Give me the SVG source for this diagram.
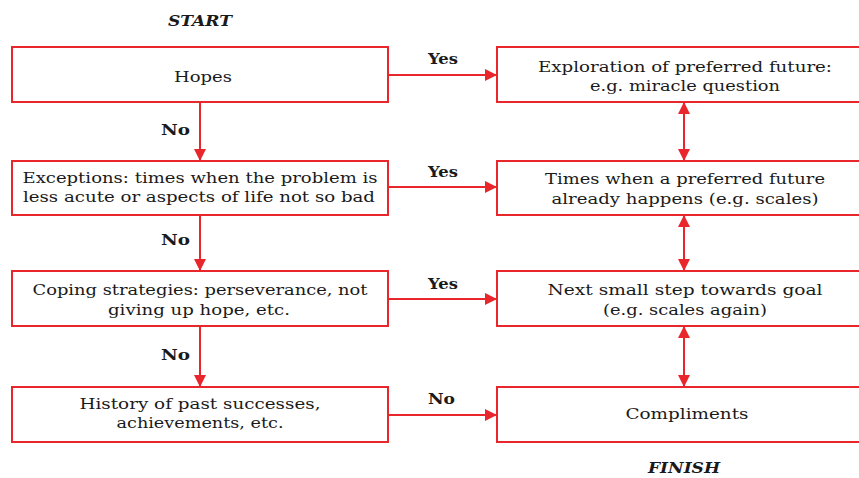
<svg xmlns="http://www.w3.org/2000/svg" width="859" height="478" viewBox="0 0 859 478">
  <style>
    .box { fill: #ffffff; stroke: #e8262c; stroke-width: 2; }
    .edge { fill: none; stroke: #e8262c; stroke-width: 2; }
    .t { font-family: "DejaVu Serif", "Liberation Serif", serif; font-size: 15.5px; fill: #1a1a1a; text-anchor: middle; }
    .lbl { font-family: "DejaVu Serif", "Liberation Serif", serif; font-size: 15px; font-weight: bold; fill: #1a1a1a; }
    .cap { font-family: "DejaVu Serif", "Liberation Serif", serif; font-size: 15px; font-weight: bold; font-style: italic; fill: #1a1a1a; }
  </style>
  <defs>
    <marker id="head" viewBox="0 0 12 12" refX="12" refY="6" markerWidth="12" markerHeight="12" markerUnits="userSpaceOnUse" orient="auto-start-reverse">
      <path d="M0,0 L12,6 L0,12 Z" fill="#e8262c"/>
    </marker>
  </defs>
  <rect width="859" height="478" fill="#ffffff"/>

  <text class="cap" x="168" y="26" textLength="64" lengthAdjust="spacingAndGlyphs">START</text>
  <text class="cap" x="648" y="473" textLength="72" lengthAdjust="spacingAndGlyphs">FINISH</text>

  <!-- left column -->
  <g id="hopes">
    <rect class="box" x="12" y="47" width="376" height="55"/>
    <text class="t" x="203" y="82" textLength="58" lengthAdjust="spacingAndGlyphs">Hopes</text>
  </g>
  <g id="exceptions">
    <rect class="box" x="12" y="161" width="376" height="54"/>
    <text class="t" x="200" y="183" textLength="355" lengthAdjust="spacingAndGlyphs">Exceptions: times when the problem is</text>
    <text class="t" x="199" y="202" textLength="352" lengthAdjust="spacingAndGlyphs">less acute or aspects of life not so bad</text>
  </g>
  <g id="coping">
    <rect class="box" x="12" y="271" width="376" height="55"/>
    <text class="t" x="200" y="295" textLength="335" lengthAdjust="spacingAndGlyphs">Coping strategies: perseverance, not</text>
    <text class="t" x="199" y="315" textLength="182" lengthAdjust="spacingAndGlyphs">giving up hope, etc.</text>
  </g>
  <g id="history">
    <rect class="box" x="12" y="387" width="376" height="55"/>
    <text class="t" x="200" y="409" textLength="241" lengthAdjust="spacingAndGlyphs">History of past successes,</text>
    <text class="t" x="200" y="428" textLength="167" lengthAdjust="spacingAndGlyphs">achievements, etc.</text>
  </g>

  <!-- right column -->
  <g id="preferred-future">
    <rect class="box" x="497" y="47" width="376" height="55"/>
    <text class="t" x="685" y="72" textLength="294" lengthAdjust="spacingAndGlyphs">Exploration of preferred future:</text>
    <text class="t" x="685" y="91" textLength="190" lengthAdjust="spacingAndGlyphs">e.g. miracle question</text>
  </g>
  <g id="already-happens">
    <rect class="box" x="497" y="161" width="376" height="54"/>
    <text class="t" x="685" y="184" textLength="280" lengthAdjust="spacingAndGlyphs">Times when a preferred future</text>
    <text class="t" x="685" y="204" textLength="267" lengthAdjust="spacingAndGlyphs">already happens (e.g. scales)</text>
  </g>
  <g id="next-step">
    <rect class="box" x="497" y="271" width="376" height="55"/>
    <text class="t" x="685" y="295" textLength="275" lengthAdjust="spacingAndGlyphs">Next small step towards goal</text>
    <text class="t" x="685" y="315" textLength="164" lengthAdjust="spacingAndGlyphs">(e.g. scales again)</text>
  </g>
  <g id="compliments">
    <rect class="box" x="497" y="387" width="376" height="55"/>
    <text class="t" x="687" y="419" textLength="123" lengthAdjust="spacingAndGlyphs">Compliments</text>
  </g>

  <!-- connectors -->
  <g id="connectors">
    <line class="edge" x1="200" y1="102" x2="200" y2="161" marker-end="url(#head)"/>
    <line class="edge" x1="200" y1="215" x2="200" y2="271" marker-end="url(#head)"/>
    <line class="edge" x1="200" y1="326" x2="200" y2="387" marker-end="url(#head)"/>

    <line class="edge" x1="388" y1="75" x2="497" y2="75" marker-end="url(#head)"/>
    <line class="edge" x1="388" y1="187" x2="497" y2="187" marker-end="url(#head)"/>
    <line class="edge" x1="388" y1="299" x2="497" y2="299" marker-end="url(#head)"/>
    <line class="edge" x1="388" y1="415" x2="497" y2="415" marker-end="url(#head)"/>

    <line class="edge" x1="684" y1="102" x2="684" y2="161" marker-start="url(#head)" marker-end="url(#head)"/>
    <line class="edge" x1="684" y1="215" x2="684" y2="271" marker-start="url(#head)" marker-end="url(#head)"/>
    <line class="edge" x1="684" y1="326" x2="684" y2="387" marker-start="url(#head)" marker-end="url(#head)"/>

    <text class="lbl" x="161" y="135" textLength="29" lengthAdjust="spacingAndGlyphs">No</text>
    <text class="lbl" x="161" y="245" textLength="29" lengthAdjust="spacingAndGlyphs">No</text>
    <text class="lbl" x="161" y="360" textLength="29" lengthAdjust="spacingAndGlyphs">No</text>
    <text class="lbl" x="428" y="64" textLength="30" lengthAdjust="spacingAndGlyphs">Yes</text>
    <text class="lbl" x="428" y="177" textLength="30" lengthAdjust="spacingAndGlyphs">Yes</text>
    <text class="lbl" x="428" y="289" textLength="30" lengthAdjust="spacingAndGlyphs">Yes</text>
    <text class="lbl" x="428" y="404" textLength="27" lengthAdjust="spacingAndGlyphs">No</text>
  </g>
</svg>
